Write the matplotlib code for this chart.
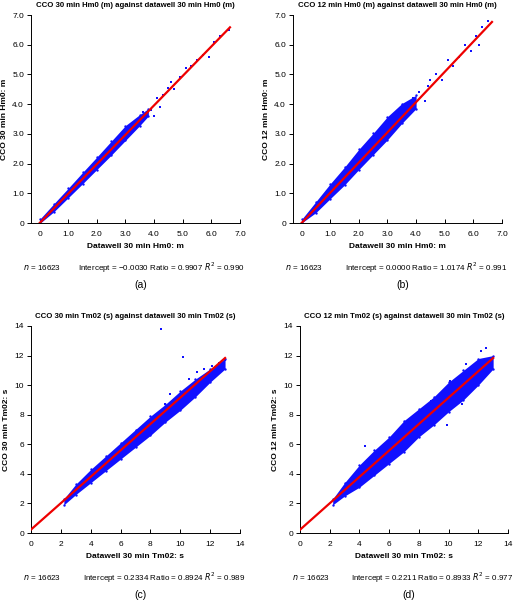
import matplotlib
matplotlib.use("Agg")
import matplotlib.pyplot as plt
import numpy as np

plt.rcParams['font.family'] = ['Liberation Sans', 'DejaVu Sans']

titles = ["CCO 30 min Hm0 (m) against datawell 30 min Hm0 (m)",
          "CCO 12 min Hm0 (m) against datawell 30 min Hm0 (m)",
          "CCO 30 min Tm02 (s) against datawell 30 min Tm02 (s)",
          "CCO 12 min Tm02 (s) against datawell 30 min Tm02 (s)"]
xlabels = ["Datawell 30 min Hm0: m", "Datawell 30 min Hm0: m",
           "Datawell 30 min Tm02: s", "Datawell 30 min Tm02: s"]
ylabels = ["CCO 30 min Hm0: m", "CCO 12 min Hm0: m",
           "CCO 30 min Tm02: s", "CCO 12 min Tm02: s"]
stats = ["Intercept = \u22120.0030 Ratio = 0.9907 $R^2$ = 0.990",
         "Intercept = 0.0000 Ratio = 1.0174 $R^2$ = 0.991",
         "Intercept = 0.2334 Ratio = 0.8924 $R^2$ = 0.989",
         "Intercept = 0.2211 Ratio = 0.8933 $R^2$ = 0.977"]
letters = ["(a)", "(b)", "(c)", "(d)"]
n_obs = 16623
intercepts = [-0.0030, 0.0000, 0.2334, 0.2211]
ratios = [0.9907, 1.0174, 0.8924, 0.8933]
line_x = [(-0.2, 6.65), (-0.2, 6.65), (0.0, 13.0), (0.0, 13.0)]

# point cloud envelopes (x, lower y, upper y)
band_x = [[0.0, 0.5, 1.0, 1.5, 2.0, 2.5, 3.0, 3.5, 3.8],
          [0.0, 0.5, 1.0, 1.5, 2.0, 2.5, 3.0, 3.5, 4.0],
          [2.2, 3.0, 4.0, 5.0, 6.0, 7.0, 8.0, 9.0, 10.0, 11.0, 12.0, 13.0],
          [2.2, 3.0, 4.0, 5.0, 6.0, 7.0, 8.0, 9.0, 10.0, 11.0, 12.0, 13.0]]
band_lo = [[-0.02, 0.38, 0.85, 1.32, 1.8, 2.28, 2.78, 3.28, 3.6],
           [0.0, 0.35, 0.82, 1.28, 1.8, 2.3, 2.8, 3.35, 3.85],
           [1.9, 2.6, 3.4, 4.2, 5.0, 5.8, 6.6, 7.5, 8.3, 9.2, 10.2, 11.1],
           [1.9, 2.5, 3.1, 3.9, 4.7, 5.5, 6.5, 7.3, 8.2, 9.0, 10.0, 11.1]]
band_hi = [[0.12, 0.65, 1.17, 1.7, 2.22, 2.75, 3.28, 3.65, 3.85],
           [0.12, 0.72, 1.32, 1.88, 2.48, 3.02, 3.58, 4.02, 4.3],
           [2.3, 3.3, 4.3, 5.2, 6.1, 7.0, 7.9, 8.7, 9.6, 10.4, 11.1, 11.8],
           [2.3, 3.4, 4.6, 5.6, 6.5, 7.6, 8.4, 9.2, 10.2, 11.0, 11.8, 12.0]]
out_x = [[3.9, 4.1, 4.3, 4.5, 4.6, 4.9, 5.1, 5.3, 5.5, 5.7, 5.9, 6.1, 6.3, 6.6, 4.0, 4.7, 3.6, 4.2],
         [3.9, 4.1, 4.3, 4.5, 4.7, 4.9, 5.1, 5.3, 5.5, 5.7, 5.9, 6.1, 6.3, 6.5, 6.2, 4.4],
         [8.7, 9.3, 10.2, 10.6, 11.1, 11.6, 12.1, 12.6, 13.0, 9.0, 10.0],
         [6.0, 4.4, 8.8, 10.1, 11.2, 12.2, 12.5, 9.9, 10.9, 8.2, 7.3]]
out_y = [[3.8, 4.2, 4.3, 4.55, 4.75, 4.9, 5.2, 5.3, 5.5, 5.65, 5.6, 6.1, 6.3, 6.5, 3.6, 4.5, 3.75, 3.9],
         [4.2, 4.4, 4.1, 4.8, 5.0, 4.8, 5.5, 5.3, 5.6, 6.0, 5.8, 6.3, 6.6, 6.8, 6.0, 4.6],
         [13.8, 9.4, 11.9, 10.4, 10.9, 11.1, 11.3, 11.5, 11.7, 8.7, 8.8],
         [5.5, 5.9, 8.9, 10.3, 11.4, 12.3, 12.5, 7.3, 8.7, 7.8, 7.0]]

fig = plt.figure(figsize=(5.2, 6.03), dpi=100)
W, H = 520, 603
boxes = [(31, 15, 240, 223), (293, 15, 502, 223), (31, 326, 240, 533), (300, 326, 508, 533)]
xlims = [(-0.3, 7.0), (-0.3, 7.0), (0, 14), (0, 14)]
ticks = [np.arange(0, 8, 1.0), np.arange(0, 8, 1.0), np.arange(0, 15, 2), np.arange(0, 15, 2)]
for i, (x0, y0, x1, y1) in enumerate(boxes):
    ax = fig.add_axes([x0 / W, 1 - y1 / H, (x1 - x0) / W, (y1 - y0) / H])
    bx = band_x[i]
    ax.fill_between(bx, band_lo[i], band_hi[i], color='#1010ff', lw=0, zorder=2)
    ax.scatter(bx, band_lo[i], s=3, color='#1010ff', lw=0, zorder=2)
    ax.scatter(bx, band_hi[i], s=3, color='#1010ff', lw=0, zorder=2)
    ax.scatter(out_x[i], out_y[i], s=3, marker='s', color='#1010ff', lw=0, zorder=2)
    lx = np.array(line_x[i])
    ax.plot(lx, intercepts[i] + ratios[i] * lx, color='#ee0000', lw=1.6, zorder=3)
    ax.set_xlim(*xlims[i])
    ax.set_ylim(0, ticks[i][-1])
    ax.set_xticks(ticks[i]); ax.set_yticks(ticks[i])
    if i < 2:
        lab = ['0'] + ['%.1f' % t for t in ticks[i][1:]]
    else:
        lab = ['%d' % t for t in ticks[i]]
    ax.set_xticklabels(lab); ax.set_yticklabels(lab)
    for s in ['top', 'right']:
        ax.spines[s].set_visible(False)
    for s in ['left', 'bottom']:
        ax.spines[s].set_linewidth(0.7)
    ax.tick_params(axis='x', direction='in', length=3, width=0.7, labelsize=6, pad=6)
    ax.tick_params(axis='y', direction='out', length=3, width=0.7, labelsize=6, pad=2)
    ax.set_title(titles[i], fontsize=5.6, fontweight='bold', pad=6)
    ax.set_xlabel(xlabels[i], fontsize=6, fontweight='bold', labelpad=3)
    ax.set_ylabel(ylabels[i], fontsize=6, fontweight='bold', labelpad=3)
    cx = (x0 + x1) / 2
    fig.text((x0 - 8) / W, 1 - (y1 + 45) / H, "$n$ = %d" % n_obs, fontsize=5.8, va='center')
    fig.text((x1 + 5) / W, 1 - (y1 + 45) / H, stats[i], fontsize=5.8, va='center', ha='right')
    fig.text((cx + 5) / W, 1 - (y1 + 62) / H, letters[i], fontsize=7.5, va='center', ha='center')

fig.savefig("out.png", dpi=100)
